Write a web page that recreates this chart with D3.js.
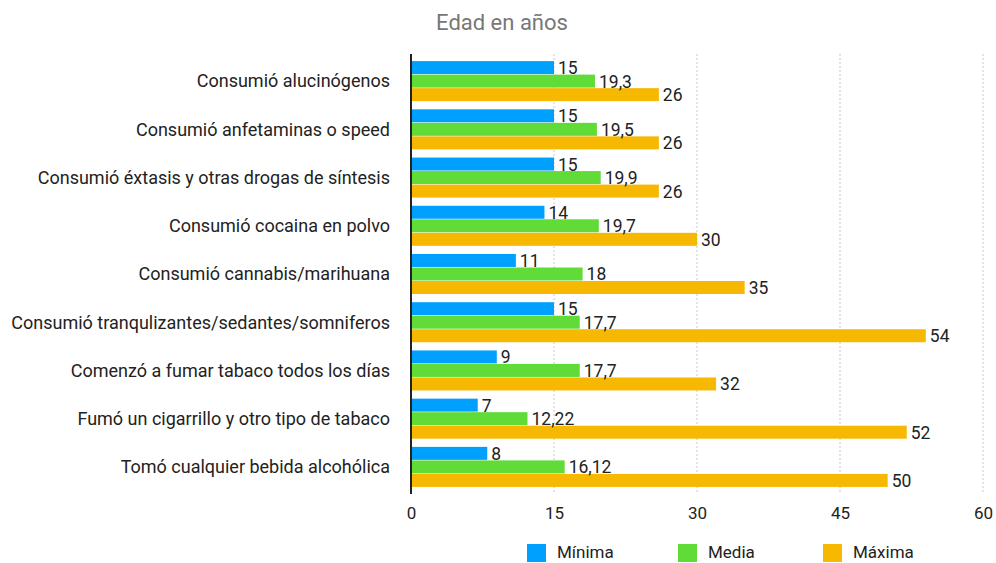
<!DOCTYPE html>
<html>
<head>
<meta charset="utf-8">
<script src="https://cdn.jsdelivr.net/npm/d3@7"></script>
<style>
  body { margin: 0; background: #fff; }
  text { font-family: Roboto, "Open Sans", sans-serif; }
</style>
</head>
<body>
<div id="chart"></div>
<script>
// categories, top to bottom
const categories = [
    "Consumió alucinógenos",
    "Consumió anfetaminas o speed",
    "Consumió éxtasis y otras drogas de síntesis",
    "Consumió cocaina en polvo",
    "Consumió cannabis/marihuana",
    "Consumió tranqulizantes/sedantes/somniferos",
    "Comenzó a fumar tabaco todos los días",
    "Fumó un cigarrillo y otro tipo de tabaco",
    "Tomó cualquier bebida alcohólica"
];
const minima = [15, 15, 15, 14, 11, 15, 9, 7, 8];
const media = [19.3, 19.5, 19.9, 19.7, 18, 17.7, 17.7, 12.22, 16.12];
const maxima = [26, 26, 26, 30, 35, 54, 32, 52, 50];
const seriesNames = ["Mínima", "Media", "Máxima"];
const xTicks = [0, 15, 30, 45, 60];
const title = "Edad en años";

const width = 996;
const height = 563;
const colors = ["#00a1fe", "#61db38", "#f7b801"];

//rows: one object per category
const rows = categories.map((c, i) => ({cat: c, vals: [minima[i], media[i], maxima[i]]}));

const svg = d3.select("#chart")
    .append("svg")
    .attr("width", width)
    .attr("height", height);

const xScale = d3.scaleLinear()
    .domain([0, 60])
    .range([411, 983]);

const yScale = d3.scaleBand()
    .domain(categories)
    .range([57, 491])
    .paddingInner(0.17)
    .paddingOuter(0.085);

const subScale = d3.scaleBand()
    .domain(d3.range(3))
    .range([0, yScale.bandwidth()])
    .paddingInner(0.04);

//title
svg.append("text")
    .text(title)
    .attr("x", 502)
    .attr("y", 30)
    .attr("text-anchor", "middle")
    .attr("fill", "#777")
    .style("font-size", "22px");

//dashed grid lines
svg.append("g")
    .selectAll("line")
    .data(xTicks.filter(d => d > 0))
    .join("line")
        .attr("x1", d => xScale(d))
        .attr("x2", d => xScale(d))
        .attr("y1", 54)
        .attr("y2", 494)
        .attr("stroke", "#c8c8c8")
        .attr("stroke-dasharray", "2,2");

//bottom axis, only labels
const bottomAxis = d3.axisBottom(xScale)
    .tickValues(xTicks)
    .tickSize(0)
    .tickPadding(0);

const axisX = svg.append("g")
    .attr("transform", "translate(0, 507)")
    .call(bottomAxis);
axisX.select(".domain").remove();
axisX.selectAll("text")
    .attr("dy", "0.71em")
    .attr("fill", "#222")
    .style("font-size", "17px")
    .style("font-family", "Roboto, sans-serif");

//category labels
const leftAxis = d3.axisLeft(yScale)
    .tickSize(0)
    .tickPadding(21);

const axisY = svg.append("g")
    .attr("transform", "translate(411, 0)")
    .call(leftAxis);
axisY.select(".domain").remove();
axisY.selectAll("text")
    .attr("fill", "#222")
    .attr("dy", "0.35em")
    .style("font-size", "18px")
    .style("font-family", "Roboto, sans-serif");

//bars
const groups = svg.append("g")
    .selectAll("g")
    .data(rows)
    .join("g")
        .attr("transform", d => `translate(0, ${yScale(d.cat)})`);

groups.selectAll("rect")
    .data(d => d.vals)
    .join("rect")
        .attr("x", xScale(0))
        .attr("y", (d, i) => subScale(i))
        .attr("width", d => xScale(d) - xScale(0))
        .attr("height", subScale.bandwidth())
        .attr("fill", (d, i) => colors[i]);

groups.selectAll(".val-label")
    .data(d => d.vals)
    .join("text")
        .attr("class", "val-label")
        .attr("x", d => xScale(d) + 4)
        .attr("y", (d, i) => subScale(i) + subScale.bandwidth())
        .attr("fill", "#222")
        .style("font-size", "17.5px")
        .text(d => String(d).replace(".", ","));

//y axis line
svg.append("line")
    .attr("x1", xScale(0))
    .attr("x2", xScale(0))
    .attr("y1", 54)
    .attr("y2", 494)
    .attr("stroke", "#222")
    .attr("stroke-width", 2);

//legend
const legendX = [527, 678, 823];
const legend = svg.append("g")
    .selectAll("g")
    .data(seriesNames)
    .join("g")
        .attr("transform", (d, i) => `translate(${legendX[i]}, 544)`);

legend.append("rect")
    .attr("width", 19)
    .attr("height", 18)
    .attr("fill", (d, i) => colors[i]);

legend.append("text")
    .text(d => d)
    .attr("x", 30)
    .attr("y", 14)
    .attr("fill", "#222")
    .style("font-size", "17px");
</script>
</body>
</html>
